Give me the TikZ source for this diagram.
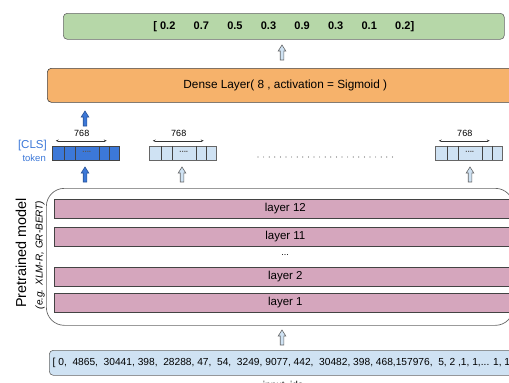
\documentclass[tikz,border=0pt]{standalone}
\usepackage{fontspec}
\setmainfont{Liberation Sans}
\usetikzlibrary{arrows.meta}
\definecolor{gbox}{HTML}{B6D7A8}
\definecolor{obox}{HTML}{F6B26B}
\definecolor{pbox}{HTML}{D5A6BD}
\definecolor{lblue}{HTML}{CFE2F3}
\definecolor{dblue}{HTML}{3C78D8}
\definecolor{edgec}{HTML}{434343}
\definecolor{grayc}{HTML}{666666}
\tikzset{
  boxbase/.style={rectangle, rounded corners=4pt, inner sep=0pt, line width=0.6pt},
  greenbox/.style={boxbase, fill=gbox, draw=grayc},
  orangebox/.style={boxbase, fill=obox, draw=edgec},
  layerbox/.style={rectangle, inner sep=0pt, fill=pbox, draw=edgec, line width=0.7pt, minimum width=462pt, minimum height=19pt, font=\fontsize{11.5}{13}\selectfont},
  inputbox/.style={boxbase, fill=lblue, draw=grayc},
  vecdark/.style={rectangle, inner sep=0pt, fill=dblue, draw=edgec, line width=0.5pt, minimum width=67pt, minimum height=14pt},
  veclight/.style={rectangle, inner sep=0pt, fill=lblue, draw=grayc, line width=0.5pt, minimum width=67pt, minimum height=14pt},
  hollowarr/.style={fill=lblue, draw=grayc, line width=0.6pt, line join=miter},
  solidarr/.style={fill=dblue, draw=dblue!70!black, line width=0.6pt, line join=miter},
  dimarr/.style={{Stealth[length=3pt,width=2.4pt]}-{Stealth[length=3pt,width=2.4pt]}, line width=0.5pt, draw=black!80},
  dimlabel/.style={inner sep=0pt, font=\fontsize{9}{10}\selectfont},
  pics/uparr/.style={code={
    \draw[#1] (-1.8,0) -- (-1.8,-9) -- (-3.8,-9) -- (0,-15) -- (3.8,-9) -- (1.8,-9) -- (1.8,0) -- cycle;
  }}
}
\begin{document}
\begin{tikzpicture}[x=1pt,y=-1pt]
\useasboundingbox (0,0) rectangle (509,383);
\clip (0,0) rectangle (509,383);

% output vector
\node[greenbox, minimum width=441pt, minimum height=26pt, anchor=north west,
      font=\fontsize{11}{13}\selectfont\bfseries] (out) at (63,13)
  {[\hspace{3pt}0.2\hspace{18.3pt}0.7\hspace{18.3pt}0.5\hspace{18.3pt}0.3\hspace{18.3pt}0.9\hspace{18.3pt}0.3\hspace{18.3pt}0.1\hspace{18.3pt}0.2]};

\pic at (282,60) {uparr=hollowarr};

% dense layer
\node[orangebox, minimum width=476pt, minimum height=34pt, anchor=north west,
      font=\fontsize{11.8}{14}\selectfont] (dense) at (47,68)
  {Dense Layer( 8 , activation = Sigmoid )};

\pic at (85,126) {uparr=solidarr};

% token vectors
\node[vecdark] (v1) at (85.5,153) {};
\node[veclight] (v2) at (182.5,153) {};
\node[veclight] (v3) at (468.5,153) {};
\foreach \v in {v1,v2,v3}{
  \foreach \d in {12,23,47,57}{
    \draw[line width=0.5pt, draw=edgec] ([xshift=\d pt]\v.north west) -- ([xshift=\d pt]\v.south west);
  }
  \node[inner sep=0pt, font=\fontsize{8}{8}\selectfont\bfseries, text=black!65] (\v dots) at ([xshift=35pt, yshift=1.5pt]\v.west) {....};
  \coordinate (\v a) at ([xshift=4pt, yshift=5pt]\v.north west);
  \coordinate (\v b) at ([xshift=55pt, yshift=5pt]\v.north west);
  \draw[dimarr] (\v a) -- (\v b);
  \node[dimlabel] (\v lab) at ([xshift=30pt, yshift=12pt]\v.north west) {768};
}

\node[anchor=east, inner sep=0pt, text=dblue, font=\fontsize{11.5}{13}\selectfont] (cls) at (47,146) {[CLS]};
\node[anchor=east, inner sep=0pt, text=dblue, font=\fontsize{9.5}{10}\selectfont] (tok) at (46,158.5) {token};

\draw[line width=1.2pt, draw=black!60, line cap=round, dash pattern=on 0pt off 5.6pt] (258,157) -- (396,157);

\pic at (85,182) {uparr=solidarr};
\pic at (182,182) {uparr=hollowarr};
\pic at (470,182) {uparr=hollowarr};

% pretrained model
\node[rectangle, rounded corners=18pt, draw=grayc, line width=0.7pt, minimum width=467pt, minimum height=137pt, anchor=north west, inner sep=0pt] (model) at (46,188) {};

\node[layerbox, anchor=north west] (l12) at (54,199) {layer 12};
\node[layerbox, anchor=north west] (l11) at (54,227) {layer 11};
\node[inner sep=0pt, font=\fontsize{9}{10}\selectfont] (ldots) at (285,255) {...};
\node[layerbox, anchor=north west] (l2) at (54,267) {layer 2};
\node[layerbox, anchor=north west] (l1) at (54,293) {layer 1};

\node[rotate=90, inner sep=0pt, font=\fontsize{14.4}{16}\selectfont] (ptm) at (21,253) {Pretrained model};
\node[rotate=90, inner sep=0pt, font=\fontsize{10}{12}\selectfont\itshape] (eg) at (40,255) {(e.g. XLM-R, GR-BERT)};

\pic at (282,345) {uparr=hollowarr};

% input ids
\node[inputbox, minimum width=500pt, minimum height=25pt, anchor=north west] (inp) at (49,350) {};
\node[anchor=west, inner sep=0pt, font=\fontsize{10.2}{12}\selectfont] (inptxt) at (52.5,362.5)
  {[ 0,\ \ 4865,\ \ 30441, 398,\ \ 28288, 47,\ \ 54,\ \ 3249, 9077, 442,\ \ 30482, 398, 468,157976,\ \ 5, 2 ,1, 1,... 1, 1]};
\node[inner sep=0pt, font=\fontsize{10}{12}\selectfont] (ids) at (283,385.5) {input\_ids};
\end{tikzpicture}
\end{document}
